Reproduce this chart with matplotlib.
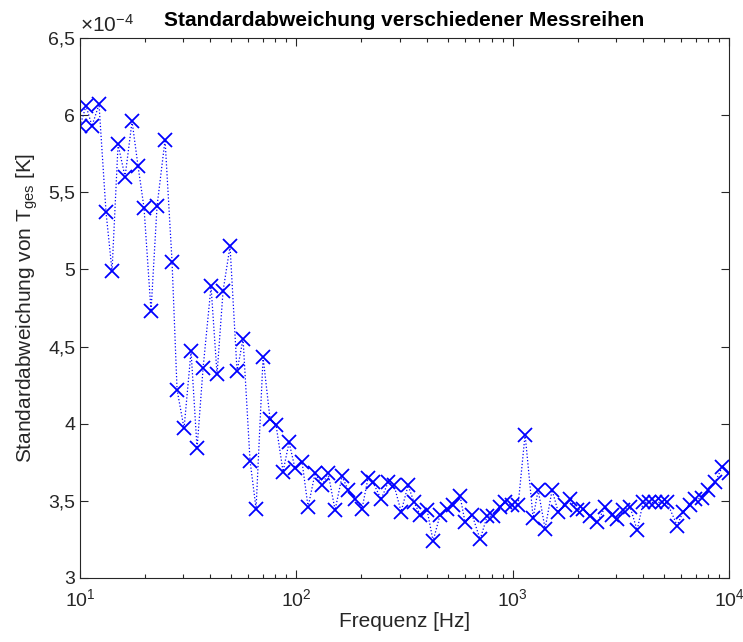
import math
import matplotlib
matplotlib.use("Agg")
import matplotlib.pyplot as plt
from matplotlib.ticker import FixedLocator, FuncFormatter, LogLocator, NullFormatter

plt.rcParams['font.family'] = ['Liberation Sans', 'DejaVu Sans']
plt.rcParams['mathtext.fontset'] = 'custom'
plt.rcParams['mathtext.rm'] = 'Liberation Sans'
plt.rcParams['mathtext.it'] = 'Liberation Sans:italic'

# frequencies [Hz]
freq = [10.0, 10.66, 11.36, 12.24, 13.19, 14.06, 14.99, 16.15, 17.40, 18.54,
        19.76, 21.29, 22.70, 24.72, 26.63, 28.09, 30.26, 32.60, 34.75, 37.05,
        40.33, 42.99, 45.83, 49.37, 53.19, 56.70, 61.08, 65.12, 70.18, 75.59,
        80.58, 86.81, 92.54, 98.6, 106.3, 113.3, 122.1, 131.5, 140.2, 151.0,
        162.7, 173.4, 186.8, 201.3, 214.5, 226.3, 246.4, 265.5, 283.0, 304.9,
        328.5, 350.2, 373.3, 402.1, 428.6, 461.8, 497.5, 530.4, 571.3, 602.5,
        649.2, 707.0, 761.6, 811.9, 874.5, 922.5, 993.6, 1059, 1141, 1243,
        1311, 1412, 1521, 1622, 1747, 1843, 1985, 2116, 2280, 2456,
        2674, 2881, 3038, 3239, 3490, 3760, 4008, 4272, 4554, 4905,
        5173, 5755, 6135, 6610, 6970, 7509, 8008, 8626, 9293, 10000]

# standard deviation in units of 1e-4 K
std_e4 = [5.93, 6.06, 5.93, 6.07, 5.37, 4.99, 5.81, 5.60, 5.96, 5.67,
          5.40, 4.73, 5.41, 5.84, 5.05, 4.22, 3.97, 4.47, 3.84, 4.36,
          4.89, 4.32, 4.86, 5.15, 4.34, 4.55, 3.76, 3.45, 4.43, 4.03,
          3.99, 3.69, 3.88, 3.71, 3.75, 3.46, 3.68, 3.60, 3.68, 3.44,
          3.66, 3.57, 3.51, 3.45, 3.65, 3.62, 3.51, 3.62, 3.60, 3.43,
          3.60, 3.49, 3.41, 3.44, 3.24, 3.41, 3.45, 3.47, 3.53, 3.36,
          3.41, 3.25, 3.40, 3.40, 3.46, 3.49, 3.47, 3.47, 3.93, 3.39,
          3.57, 3.32, 3.57, 3.43, 3.47, 3.51, 3.44, 3.45, 3.40, 3.36,
          3.46, 3.41, 3.38, 3.44, 3.46, 3.31, 3.49, 3.49, 3.49, 3.49,
          3.49, 3.34, 3.43, 3.47, 3.51, 3.52, 3.57, 3.62, 3.72, 3.68]

ytick_vals = [3.0, 3.5, 4.0, 4.5, 5.0, 5.5, 6.0, 6.5]
xtick_vals = [10, 100, 1000, 10000]

std = [v * 1e-4 for v in std_e4]
grey = (0.15, 0.15, 0.15)

fig = plt.figure(figsize=(7.43, 6.42), dpi=100)
ax = fig.add_axes([0.1077, 0.0997, 0.8735, 0.8411])

ax.semilogx(freq, std, linestyle=':', color='blue', linewidth=0.9,
            marker='x', markersize=10.5, markeredgewidth=1.3)

ax.set_xlim(10, 10000)
ax.set_ylim(3e-4, 6.5e-4)
ax.xaxis.set_major_locator(FixedLocator(xtick_vals))
ax.xaxis.set_major_formatter(FuncFormatter(lambda v, p: r'$10^{%d}$' % round(math.log10(v))))
ax.xaxis.set_minor_locator(LogLocator(base=10, subs=range(2, 10)))
ax.xaxis.set_minor_formatter(NullFormatter())
ax.yaxis.set_major_locator(FixedLocator([v * 1e-4 for v in ytick_vals]))
ax.yaxis.set_major_formatter(FuncFormatter(lambda v, p: ('%g' % round(v * 1e4, 2)).replace('.', ',')))

ax.tick_params(which='both', direction='in', top=True, right=True, colors=grey,
               labelsize=14, labelcolor=grey)
ax.tick_params(which='major', length=6, width=0.8)
ax.tick_params(which='minor', length=3, width=0.8)
ax.tick_params(axis='x', pad=7)
for s in ax.spines.values():
    s.set_color(grey)
    s.set_linewidth(0.8)

# exponent label, MATLAB style
ax.text(0.0, 1.004, '×10' + r'$^{-4}$', transform=ax.transAxes, ha='left', va='bottom',
        fontsize=15, color=grey)
ax.set_title('Standardabweichung verschiedener Messreihen', fontsize=15, fontweight='bold',
             pad=9)
ax.set_xlabel('Frequenz [Hz]', fontsize=15, color=grey, labelpad=2)
ax.set_ylabel(r'Standardabweichung von T$_{\mathrm{ges}}$ [K]', fontsize=15, color=grey,
              labelpad=6)

fig.savefig('out.png', dpi=100)
